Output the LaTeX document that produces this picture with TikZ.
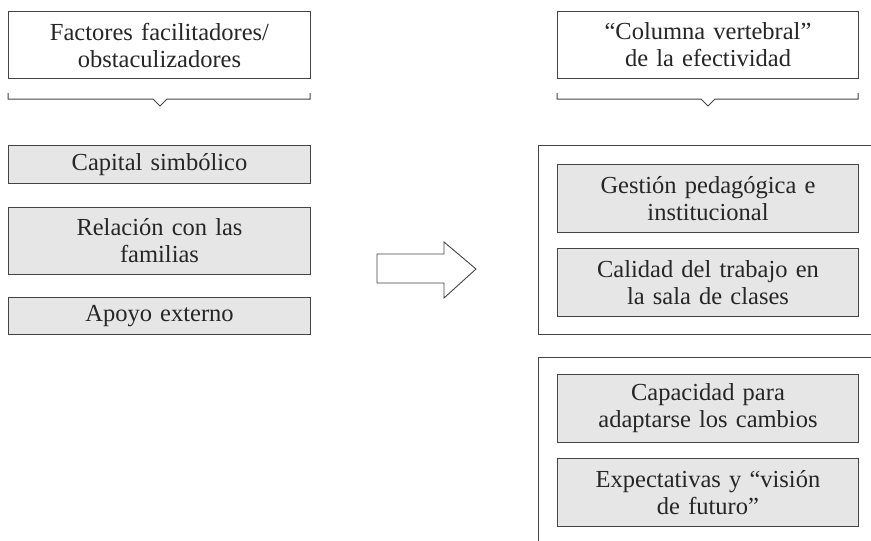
\documentclass[tikz,border=0pt]{standalone}
\usepackage{fontspec}
\setmainfont{Liberation Serif}
\definecolor{lineC}{HTML}{444444}
\definecolor{boxC}{HTML}{E6E6E6}
\tikzset{
  hdr/.style={draw=lineC, line width=1pt, fill=white, anchor=north west, inner sep=0pt,
    minimum width=302pt, minimum height=67pt, text width=290pt, align=center,
    font=\fontsize{24.5}{27}\selectfont, text=black!85},
  item/.style={hdr, fill=boxC},
  frame/.style={draw=lineC, line width=1pt},
  brk/.style={draw=lineC, line width=1pt},
}
\begin{document}
\begin{tikzpicture}[x=1pt,y=-1pt]
\useasboundingbox (0,0) rectangle (871,541);
% headers
\node[hdr] (h1) at (8,11) {Factores facilitadores/\\obstaculizadores};
\node[hdr, minimum width=301pt] (h2) at (557,11) {“Columna vertebral”\\de la efectividad};
% brackets
\draw[brk] (8,93) -- (8,99) -- (153,99) -- (160,106) -- (167,99) -- (310,99) -- (310,93);
\draw[brk] (557,93) -- (557,99) -- (701,99) -- (708,106) -- (715,99) -- (858,99) -- (858,93);
% left items
\node[item, minimum height=38pt] (l1) at (8,145) {Capital simbólico};
\node[item, minimum height=67pt] (l2) at (8,207) {Relación con las\\familias};
\node[item, minimum height=37pt] (l3) at (8,297) {Apoyo externo};
% containers
\draw[frame] (871,145) -- (538,145) -- (538,334) -- (871,334);
\draw[frame] (871,357) -- (538,357) -- (538,541);
% right items
\node[item, minimum width=301pt, minimum height=68pt] (r1) at (557,164) {Gestión pedagógica e\\institucional};
\node[item, minimum width=301pt, minimum height=68pt] (r2) at (557,248) {Calidad del trabajo en\\la sala de clases};
\node[item, minimum width=301pt, minimum height=68pt] (r3) at (557,374) {Capacidad para\\adaptarse los cambios};
\node[item, minimum width=301pt, minimum height=68pt] (r4) at (557,458) {Expectativas y “visión\\de futuro”};
% big arrow
\draw[frame, line width=0.9pt, fill=white] (377,254) -- (444,254) -- (444,242) -- (476,269) -- (444,298) -- (444,283) -- (377,283) -- cycle;
\end{tikzpicture}
\end{document}
